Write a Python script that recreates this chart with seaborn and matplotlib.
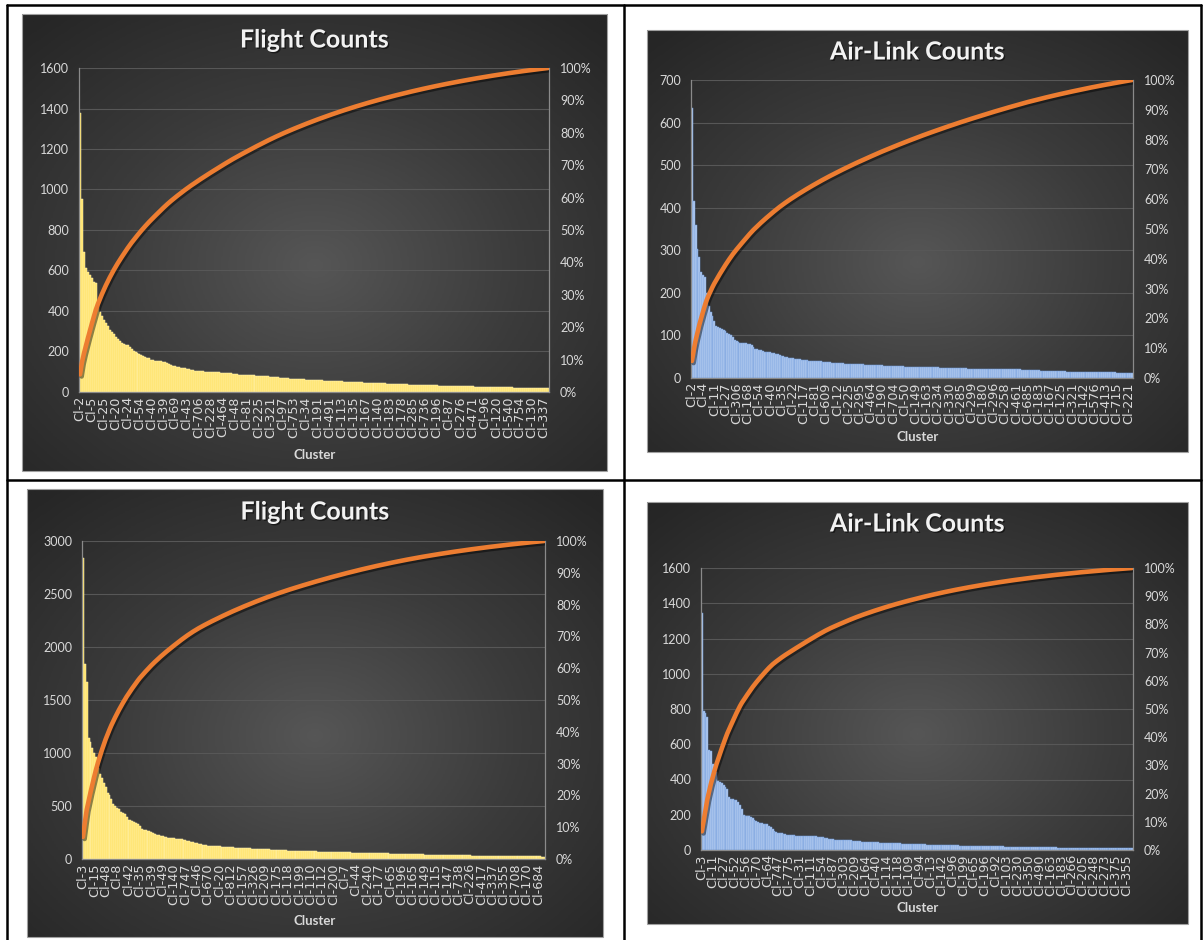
import numpy as np
import pandas as pd
import matplotlib
matplotlib.use("Agg")
import matplotlib.pyplot as plt
import matplotlib.patheffects as pe
from matplotlib.lines import Line2D
from matplotlib.patches import Rectangle
from matplotlib.colors import LinearSegmentedColormap
import seaborn as sns

W, H = 1203, 940

# ---- data: cluster counts (sorted, one value per cluster) ----
tl_counts = [
    1380, 955, 690, 610, 595, 580, 565, 545, 540, 430,
    395, 375, 355, 340, 325, 305, 295, 285, 270, 260, 250, 240, 236, 233, 230, 222, 210, 200, 196, 193,
    190, 185, 180, 175, 170, 166, 160, 157, 155, 154, 153, 152, 150, 147, 143, 138, 133, 130, 126, 123,
    121, 120, 119, 117, 115, 112, 109, 107, 106, 105,
    104, 103, 102, 101, 100, 100, 99,
    98, 98, 97, 97, 96, 95, 95, 94, 93, 92, 90, 88, 87, 86, 85, 85, 84, 84,
    83, 83, 82, 82, 81, 80, 80, 79, 79, 78, 77, 76, 75, 74, 73, 72, 71, 70,
    69, 68, 67, 66, 66, 65, 64, 64, 63, 63, 62, 61, 61, 60, 60, 59, 59, 58,
    57, 57, 56, 56, 55, 55, 54, 54, 53, 53, 52, 52, 51, 51, 50, 50, 49, 49,
    48, 48, 47, 47, 46, 46, 45, 45, 44, 44, 44, 43, 43, 42, 42, 42, 41, 41,
    40, 40, 40, 39, 39, 39, 38, 38, 38, 37, 37, 37, 36, 36, 36, 35, 35, 35,
    34, 34, 34, 33, 33, 33, 32, 32, 32, 31, 31, 31, 30, 30, 30, 30, 29, 29,
    29, 29, 28, 28, 28, 28, 27, 27, 27, 27, 26, 26, 26, 26, 25, 25, 25, 25,
    24, 24, 24, 24, 23, 23, 23, 23, 22, 22, 22, 22, 21, 21, 21, 21, 20, 20,
    20, 20, 19, 19, 19, 19, 18, 18,
]
tl_labels = ["Cl-2", "Cl-5", "Cl-25", "Cl-20", "Cl-24", "Cl-54", "Cl-40", "Cl-39", "Cl-69", "Cl-43",
             "Cl-706", "Cl-228", "Cl-464", "Cl-48", "Cl-81", "Cl-225", "Cl-321", "Cl-97", "Cl-753", "Cl-34",
             "Cl-191", "Cl-491", "Cl-113", "Cl-135", "Cl-167", "Cl-140", "Cl-183", "Cl-178", "Cl-285", "Cl-736",
             "Cl-196", "Cl-87", "Cl-276", "Cl-471", "Cl-96", "Cl-120", "Cl-540", "Cl-754", "Cl-130", "Cl-337"]

tr_counts = [
    635, 415, 360, 302, 285, 250, 243, 238, 200, 170,
    155, 145, 135, 122, 120, 118, 114, 112, 110, 106, 103, 100, 96, 90, 88, 85, 83, 82, 82, 82,
    81, 80, 78, 72, 68, 68, 66, 65, 63, 62, 61, 60, 60, 59, 58, 57, 56, 54, 52, 51,
    50, 49, 48, 47, 46, 45,
    45, 44, 44, 43, 43, 42, 42, 41, 41, 40, 40, 40, 39, 39, 38, 38, 37, 37,
    37, 36, 36, 36, 35, 35, 35, 35, 34, 34, 34, 33, 33, 33, 33, 32, 32, 32,
    32, 31, 31, 31, 31, 31, 31, 31, 30, 30, 30, 29, 29, 29, 29, 29, 28, 28,
    28, 28, 28, 28, 27, 27, 27, 27, 27, 27, 27, 26, 26, 26, 26, 26, 25, 25,
    25, 25, 25, 25, 25, 24, 24, 24, 24, 24, 24, 24, 24, 23, 23, 23, 23, 23,
    23, 23, 22, 22, 22, 22, 22, 22, 22, 22, 22, 22, 22, 21, 21, 21, 21, 21,
    21, 21, 21, 20, 20, 20, 20, 20, 20, 20, 20, 20, 20, 19, 19, 19, 19, 18,
    18, 18, 18, 18, 18, 17, 17, 17, 17, 17, 17, 17, 16, 16, 16, 16, 16, 16,
    16, 15, 15, 15, 15, 15, 15, 15, 15, 15, 15, 14, 14, 14, 14, 14, 14, 14,
    14, 13, 13, 13, 13, 13, 13, 13, 13, 13, 12, 12,
    12, 12, 12, 12, 12, 12, 12,
]
tr_labels = ["Cl-2", "Cl-4", "Cl-11", "Cl-27", "Cl-306", "Cl-168", "Cl-54", "Cl-40", "Cl-35", "Cl-22",
             "Cl-117", "Cl-81", "Cl-609", "Cl-12", "Cl-225", "Cl-295", "Cl-464", "Cl-190", "Cl-704", "Cl-50",
             "Cl-149", "Cl-163", "Cl-234", "Cl-330", "Cl-285", "Cl-299", "Cl-180", "Cl-296", "Cl-258", "Cl-461",
             "Cl-685", "Cl-183", "Cl-167", "Cl-125", "Cl-321", "Cl-142", "Cl-576", "Cl-413", "Cl-715", "Cl-221"]

bl_counts = [
    2840, 1840, 1670, 1140, 1100, 1050, 1000, 960, 860, 800,
    760, 720, 680, 620, 600, 570, 520, 500, 480, 470,
    440, 430, 420, 400, 370, 365, 355, 345, 340, 330,
    310, 280, 275, 270, 265, 260, 255, 245, 235, 230,
    225, 220, 215, 210, 205, 200, 198, 196, 194, 192, 190, 188,
    185, 182, 178, 173, 168, 163, 158, 152, 148, 143, 138, 134,
    131, 129, 127, 125, 123, 121, 120, 119, 118, 117, 116, 115,
    114, 113, 112, 110, 108, 107, 106, 105, 104, 103, 102, 101,
    100, 99, 98, 97, 96, 95, 94, 93, 92, 91, 90, 89,
    88, 87, 86, 85, 84, 83, 82, 81, 80, 79, 78, 77,
    76, 76, 75, 75, 74, 74, 73, 73, 72, 72, 71, 71,
    70, 70, 69, 69, 68, 68, 67, 67, 66, 66, 65, 65,
    64, 64, 63, 63, 62, 62, 61, 61, 60, 60, 59, 59,
    58, 58, 57, 57, 56, 56, 55, 55, 54, 54, 53, 53,
    52, 52, 51, 51, 50, 50, 49, 49, 48, 48, 47, 47,
    46, 46, 45, 45, 44, 44, 43, 43, 42, 42, 41, 41,
    40, 40, 40, 39, 39, 39, 38, 38, 38, 37, 37, 37,
    36, 36, 36, 35, 35, 35, 34, 34, 34, 33, 33, 33,
    32, 32, 32, 31, 31, 31, 30, 30, 30, 30, 29, 29,
    29, 29, 28, 28, 28, 28, 27, 27, 27, 27, 26, 26,
    26, 26, 25, 25, 25, 25, 24, 24, 24, 24, 23, 23,
]
bl_labels = ["Cl-3", "Cl-15", "Cl-48", "Cl-8", "Cl-42", "Cl-35", "Cl-39", "Cl-49", "Cl-140", "Cl-747",
             "Cl-46", "Cl-670", "Cl-20", "Cl-812", "Cl-157", "Cl-326", "Cl-209", "Cl-175", "Cl-118", "Cl-199",
             "Cl-110", "Cl-112", "Cl-200", "Cl-7", "Cl-44", "Cl-240", "Cl-177", "Cl-65", "Cl-196", "Cl-165",
             "Cl-149", "Cl-115", "Cl-147", "Cl-738", "Cl-226", "Cl-417", "Cl-337", "Cl-355", "Cl-708", "Cl-170",
             "Cl-684"]

br_counts = [
    1345, 790, 780, 755, 565, 560, 490, 470, 440, 390,
    385, 380, 370, 355, 345, 300, 290, 288, 286, 285,
    270, 255, 230, 200, 195, 193, 192, 190, 180, 170,
    165, 160, 155, 152, 150, 148, 145, 138, 130, 120, 110,
    100, 98, 96, 95, 92, 88, 85, 84, 84, 83, 83, 82,
    82, 81, 81, 80, 80, 80, 79, 79, 78, 78, 77, 76,
    75, 74, 72, 70, 68, 65, 62, 60, 59, 58, 58, 57,
    57, 56, 56, 55, 55, 54, 53, 52, 51, 50, 49, 48,
    47, 46, 46, 45, 45, 44, 44, 43, 43, 42, 42, 41,
    41, 40, 40, 39, 39, 38, 38, 37, 37, 36, 36, 35,
    35, 35, 34, 34, 34, 33, 33, 33, 32, 32, 32, 31,
    31, 31, 30, 30, 30, 29, 29, 29, 28, 28, 28, 27,
    27, 27, 26, 26, 26, 25, 25, 25, 25, 24, 24, 24,
    24, 23, 23, 23, 23, 22, 22, 22, 22, 21, 21, 21,
    21, 20, 20, 20, 20, 20, 19, 19, 19, 19, 19, 18,
    18, 18, 18, 18, 17, 17, 17, 17, 17, 17, 16, 16,
    16, 16, 16, 16, 15, 15, 15, 15, 15, 15, 15, 14,
    14, 14, 14, 14, 14, 14, 13, 13, 13, 13, 13, 13,
    13, 12, 12, 12, 12, 12, 12, 12, 12, 12, 11, 11,
    11, 11, 11, 11, 11, 11, 11, 10, 10, 10, 10, 10,
    10, 10, 10, 10, 10,
]
br_labels = ["Cl-3", "Cl-11", "Cl-27", "Cl-52", "Cl-56", "Cl-70", "Cl-64", "Cl-747", "Cl-775", "Cl-31",
             "Cl-111", "Cl-54", "Cl-87", "Cl-303", "Cl-209", "Cl-164", "Cl-40", "Cl-114", "Cl-118", "Cl-109",
             "Cl-94", "Cl-13", "Cl-142", "Cl-96", "Cl-199", "Cl-65", "Cl-196", "Cl-92", "Cl-103", "Cl-230",
             "Cl-350", "Cl-490", "Cl-163", "Cl-183", "Cl-266", "Cl-205", "Cl-248", "Cl-273", "Cl-375", "Cl-355"]

# ---- style ----
sns.set_theme(style="dark")
plt.rcParams['font.family'] = ['Lato', 'DejaVu Sans']

TEXT = '#d9d9d9'
GRID = '#575757'
AXLINE = '#8a8a8a'
ORANGE = '#ED7D31'

fig = plt.figure(figsize=(W / 100, H / 100), dpi=100)
fig.patch.set_facecolor('white')


def rect(x0, y0, x1, y1):
    return [x0 / W, 1 - y1 / H, (x1 - x0) / W, (y1 - y0) / H]


bg_cmap = LinearSegmentedColormap.from_list('xl_dark', ['#565656', '#3b3b3b', '#262626'])
gy, gx = np.mgrid[0:1:300j, 0:1:300j]
radial = np.clip(np.sqrt((gx - 0.5) ** 2 + (gy - 0.55) ** 2) / 0.72, 0, 1)


def pareto(panel, plot, title, title_y, cluster_y, counts, labels, step, ymax, ystep,
           bar_color, bar_edge):
    # dark gradient chart area
    bg = fig.add_axes(rect(*panel))
    bg.imshow(radial, cmap=bg_cmap, vmin=0, vmax=1, aspect='auto', extent=[0, 1, 0, 1])
    bg.set_axis_off()
    bg.add_patch(Rectangle((0, 0), 1, 1, transform=bg.transAxes, fill=False,
                           ec='#a0a0a0', lw=0.8, clip_on=False))

    n = len(counts)
    df = pd.DataFrame({'idx': np.arange(n), 'count': counts})
    df['cum'] = df['count'].cumsum() / df['count'].sum() * 100

    ax = fig.add_axes(rect(*plot))
    ax.set_facecolor('none')
    sns.barplot(data=df, x='idx', y='count', ax=ax, native_scale=True, color=bar_color,
                saturation=1, width=1.0, edgecolor=bar_edge, linewidth=0.35, zorder=2)
    ax.set_ylim(0, ymax)
    ax.set_yticks(np.arange(0, ymax + 1, ystep))
    ax.yaxis.grid(True, color=GRID, lw=0.8, zorder=0)
    ax.xaxis.grid(False)
    ax.set_axisbelow(True)
    pos = list(range(0, n, step))[:len(labels)]
    ax.set_xticks(pos)
    ax.set_xticklabels(labels[:len(pos)], rotation=90)
    ax.tick_params(axis='x', colors=TEXT, labelsize=9.2, labelfontfamily='DejaVu Sans',
                   length=0, pad=3)
    ax.tick_params(axis='y', colors=TEXT, labelsize=9, length=0, pad=7)
    ax.set_xlabel('')
    ax.set_ylabel('')
    for s in ['top', 'right']:
        ax.spines[s].set_visible(False)
    for s in ['left', 'bottom']:
        ax.spines[s].set_color(AXLINE)
        ax.spines[s].set_linewidth(0.9)

    ax2 = ax.twinx()
    sns.lineplot(data=df, x='idx', y='cum', ax=ax2, color=ORANGE, lw=3.3,
                 solid_capstyle='round', zorder=5,
                 path_effects=[pe.SimpleLineShadow(offset=(1.2, -1.5), shadow_color='black', alpha=0.45),
                               pe.Normal()])
    ax2.set_ylim(0, 100)
    ax2.set_yticks(np.arange(0, 101, 10))
    ax2.set_yticklabels([f'{v}%' for v in range(0, 101, 10)])
    ax2.tick_params(axis='y', colors=TEXT, labelsize=9, length=0, pad=8)
    ax2.grid(False)
    ax2.set_ylabel('')
    ax2.set_xlabel('')
    for s in ['top', 'left', 'bottom']:
        ax2.spines[s].set_visible(False)
    ax2.spines['right'].set_color(AXLINE)
    ax2.spines['right'].set_linewidth(0.9)
    ax.set_xlim(-0.5, n - 0.5)

    cx = (panel[0] + panel[2]) / 2 / W
    fig.text(cx, 1 - title_y / H, title, ha='center', va='center', fontsize=18,
             fontweight='bold', color='#f2f2f2',
             path_effects=[pe.withSimplePatchShadow(offset=(1, -1), shadow_rgbFace='black', alpha=0.5)])
    fig.text(cx, 1 - cluster_y / H, 'Cluster', ha='center', va='center', fontsize=9.5,
             fontweight='bold', color=TEXT)


YELLOW, YELLOW_EDGE = '#FFE265', '#FFF3B5'
BLUE, BLUE_EDGE = '#B7CEF0', '#6F9BDD'

pareto((22, 14, 607, 471), (79, 68, 549, 392), 'Flight Counts', 40, 455,
       tl_counts, tl_labels, 6, 1600, 200, YELLOW, YELLOW_EDGE)
pareto((647, 30, 1188, 452), (691, 80, 1133, 378), 'Air-Link Counts', 52, 437,
       tr_counts, tr_labels, 6, 700, 100, BLUE, BLUE_EDGE)
pareto((27, 489, 603, 937), (82, 541, 545, 859), 'Flight Counts', 512, 921,
       bl_counts, bl_labels, 6, 3000, 500, YELLOW, YELLOW_EDGE)
pareto((647, 502, 1188, 924), (701, 568, 1133, 850), 'Air-Link Counts', 524, 908,
       br_counts, br_labels, 6, 1600, 200, BLUE, BLUE_EDGE)

# table grid lines around the four charts
for (x0, y0, x1, y1) in [(7, 5, 1201, 5), (7, 5, 7, 940), (1201, 5, 1201, 940),
                         (624, 5, 624, 940), (7, 480, 1201, 480)]:
    fig.add_artist(Line2D([x0 / W, x1 / W], [1 - y0 / H, 1 - y1 / H], color='black', lw=1.8))

fig.savefig('out.png', dpi=100, facecolor='white')
